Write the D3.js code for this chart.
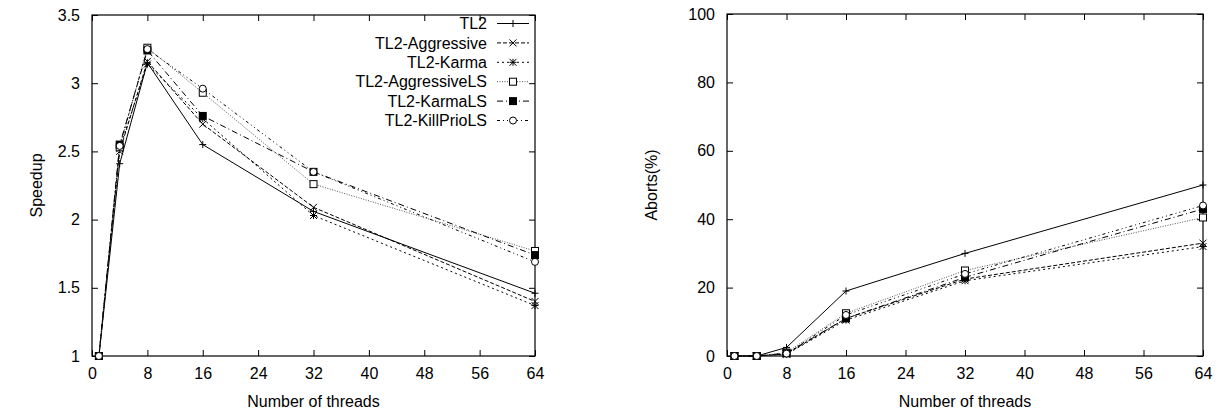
<!DOCTYPE html>
<html>
<head>
<meta charset="utf-8">
<script src="https://cdn.jsdelivr.net/npm/d3@7"></script>
<style>
  body { margin: 0; background: #fff; }
  svg { display: block; font-family: "Liberation Sans", Arial, sans-serif; }
  .tick text { font-size: 16px; fill: #000; }
  .axis-label { font-size: 16px; fill: #000; }
  .legend text { font-size: 16px; fill: #000; }
</style>
</head>
<body>
<svg width="1225" height="416"></svg>
<script>
const threads = [1, 4, 8, 16, 32, 64];
const seriesNames = ['TL2', 'TL2-Aggressive', 'TL2-Karma', 'TL2-AggressiveLS', 'TL2-KarmaLS', 'TL2-KillPrioLS'];

// speedup, left panel
const speedupTL2          = [1, 2.41, 3.15, 2.55, 2.06, 1.46];
const speedupAggressive   = [1, 2.50, 3.16, 2.70, 2.09, 1.40];
const speedupKarma        = [1, 2.52, 3.14, 2.74, 2.03, 1.37];
const speedupAggressiveLS = [1, 2.53, 3.26, 2.93, 2.26, 1.77];
const speedupKarmaLS      = [1, 2.55, 3.24, 2.76, 2.35, 1.74];
const speedupKillPrioLS   = [1, 2.54, 3.25, 2.96, 2.35, 1.69];

// aborts, right panel
const abortsTL2          = [0, 0, 2.5, 19, 30, 50];
const abortsAggressive   = [0, 0, 0.6, 11, 22.5, 33];
const abortsKarma        = [0, 0, 0.5, 10.5, 22, 32];
const abortsAggressiveLS = [0, 0, 1.0, 12.5, 25, 40.5];
const abortsKarmaLS      = [0, 0, 0.8, 11, 23, 43];
const abortsKillPrioLS   = [0, 0, 0.7, 12, 24, 44];

const xTicks = [0, 8, 16, 24, 32, 40, 48, 56, 64];
const speedupTicks = [1, 1.5, 2, 2.5, 3, 3.5];
const abortsTicks = [0, 20, 40, 60, 80, 100];

// line dash + marker per series (gnuplot style)
const styles = [
  { dash: null,        marker: 'plus' },
  { dash: '4,2',       marker: 'cross' },
  { dash: '2,3',       marker: 'star' },
  { dash: '1,1.5',     marker: 'square', color: '#555' },
  { dash: '6,3,1,3',   marker: 'filled' },
  { dash: '3,3,1,3,1,3', marker: 'circle' }
];

const svg = d3.select('svg');

const drawMarker = (g, type, x, y) => {
  const s = 3.5;
  if (type === 'plus') {
    g.append('path').attr('d', `M${x - s},${y}H${x + s}M${x},${y - s}V${y + s}`).attr('stroke', '#000');
  } else if (type === 'cross') {
    g.append('path').attr('d', `M${x - s},${y - s}L${x + s},${y + s}M${x - s},${y + s}L${x + s},${y - s}`).attr('stroke', '#000');
  } else if (type === 'star') {
    g.append('path').attr('d', `M${x - s},${y - s}L${x + s},${y + s}M${x - s},${y + s}L${x + s},${y - s}M${x - s},${y}H${x + s}M${x},${y - s}V${y + s}`).attr('stroke', '#000');
  } else if (type === 'square') {
    g.append('rect').attr('x', x - s).attr('y', y - s).attr('width', 2 * s).attr('height', 2 * s)
      .attr('fill', '#fff').attr('stroke', '#000');
  } else if (type === 'filled') {
    g.append('rect').attr('x', x - s - 0.5).attr('y', y - s - 0.5).attr('width', 2 * s + 1).attr('height', 2 * s + 1)
      .attr('fill', '#000');
  } else if (type === 'circle') {
    g.append('circle').attr('cx', x).attr('cy', y).attr('r', s).attr('fill', '#fff').attr('stroke', '#000');
  }
};

const drawPanel = (opt) => {
  const { left, right, top, bottom, yDomain, yTicks, yLabel, yLabelX, series, legend } = opt;

  const xScale = d3.scaleLinear().domain([0, 64]).range([left, right]);
  const yScale = d3.scaleLinear().domain(yDomain).range([bottom, top]);

  const g = svg.append('g');

  // axes, ticks inward and mirrored
  const xAxis = d3.axisBottom(xScale).tickValues(xTicks).tickSize(-6).tickPadding(12).tickFormat(d3.format('d'));
  const xAxisTop = d3.axisTop(xScale).tickValues(xTicks).tickSize(-6).tickFormat('');
  const yAxis = d3.axisLeft(yScale).tickValues(yTicks).tickSize(-6).tickPadding(12).tickFormat(d => d);
  const yAxisRight = d3.axisRight(yScale).tickValues(yTicks).tickSize(-6).tickFormat('');

  [
    g.append('g').attr('transform', `translate(0,${bottom})`).call(xAxis),
    g.append('g').attr('transform', `translate(0,${top})`).call(xAxisTop),
    g.append('g').attr('transform', `translate(${left},0)`).call(yAxis),
    g.append('g').attr('transform', `translate(${right},0)`).call(yAxisRight)
  ].forEach(a => {
    a.select('.domain').remove();
    a.selectAll('line').attr('stroke', '#000');
    a.selectAll('text').style('font-size', '16px');
  });

  g.append('rect')
    .attr('x', left).attr('y', top)
    .attr('width', right - left).attr('height', bottom - top)
    .attr('fill', 'none').attr('stroke', '#000').attr('stroke-width', 1.2);

  g.append('text')
    .attr('class', 'axis-label')
    .attr('x', (left + right) / 2)
    .attr('y', bottom + 51)
    .attr('text-anchor', 'middle')
    .text('Number of threads');

  g.append('text')
    .attr('class', 'axis-label')
    .attr('transform', `translate(${yLabelX},${(top + bottom) / 2}) rotate(-90)`)
    .attr('text-anchor', 'middle')
    .text(yLabel);

  const lineGenerator = d3.line()
    .x((d, i) => xScale(threads[i]))
    .y(d => yScale(d));

  series.forEach((values, k) => {
    const st = styles[k];
    g.append('path')
      .attr('d', lineGenerator(values))
      .attr('fill', 'none')
      .attr('stroke', st.color || '#000')
      .attr('stroke-width', 1)
      .attr('stroke-dasharray', st.dash);
    const mg = g.append('g');
    values.forEach((v, i) => drawMarker(mg, st.marker, xScale(threads[i]), yScale(v)));
  });

  if (legend) {
    const lg = g.append('g').attr('class', 'legend');
    seriesNames.forEach((name, k) => {
      const st = styles[k];
      const y = top + 8.5 + k * 19.4;
      lg.append('text')
        .attr('x', right - 48).attr('y', y).attr('dy', '0.35em')
        .attr('text-anchor', 'end')
        .text(name);
      lg.append('line')
        .attr('x1', right - 38).attr('x2', right - 6)
        .attr('y1', y).attr('y2', y)
        .attr('stroke', st.color || '#000')
        .attr('stroke-dasharray', st.dash);
      drawMarker(lg, st.marker, right - 22, y);
    });
  }
};

drawPanel({
  left: 92, right: 535, top: 15, bottom: 356,
  yDomain: [1, 3.5], yTicks: speedupTicks,
  yLabel: 'Speedup', yLabelX: 42,
  series: [speedupTL2, speedupAggressive, speedupKarma, speedupAggressiveLS, speedupKarmaLS, speedupKillPrioLS],
  legend: true
});

drawPanel({
  left: 727, right: 1203, top: 14, bottom: 356,
  yDomain: [0, 100], yTicks: abortsTicks,
  yLabel: 'Aborts(%)', yLabelX: 657,
  series: [abortsTL2, abortsAggressive, abortsKarma, abortsAggressiveLS, abortsKarmaLS, abortsKillPrioLS],
  legend: false
});
</script>
</body>
</html>
